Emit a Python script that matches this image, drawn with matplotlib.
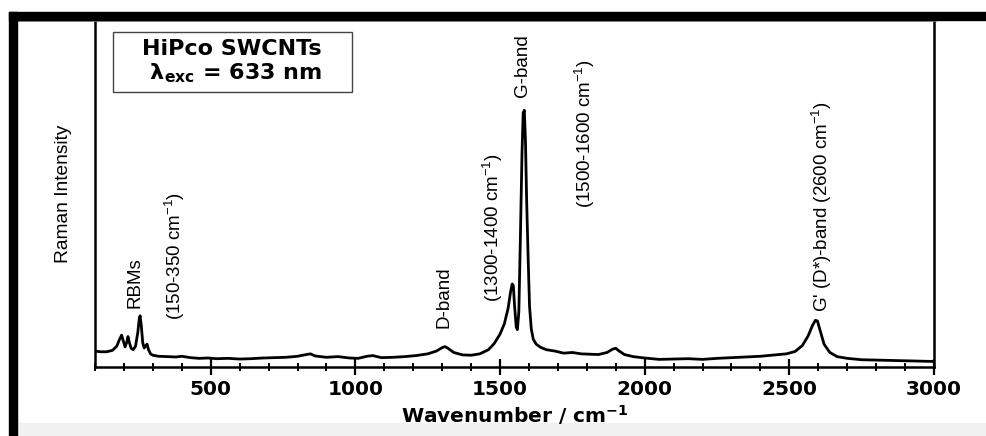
import matplotlib
matplotlib.use("Agg")
import matplotlib.pyplot as plt
from matplotlib.ticker import MultipleLocator
from matplotlib.patches import Rectangle
from matplotlib.lines import Line2D

wavenumber = [
    100, 120, 140, 160, 175, 185, 192, 198, 204, 210, 214, 219, 225, 232, 240,
    248, 253, 256, 260, 265, 270, 276, 280, 285, 292, 300, 320, 350, 380, 400,
    430, 460, 490, 520, 560, 600, 640, 680, 720, 760, 800, 830, 845, 860, 900,
    940, 980, 1010, 1040, 1060, 1090, 1130, 1170, 1210, 1250, 1280, 1300, 1310,
    1320, 1340, 1370, 1400, 1430, 1460, 1480, 1500, 1515, 1528, 1536, 1542,
    1546, 1550, 1556, 1560, 1565, 1570, 1576, 1580, 1584, 1588, 1592, 1597,
    1602, 1608, 1615, 1625, 1640, 1660, 1690, 1720, 1750, 1780, 1810, 1840,
    1870, 1890, 1900, 1912, 1930, 1960, 2000, 2050, 2100, 2150, 2200, 2250,
    2300, 2350, 2400, 2450, 2490, 2520, 2545, 2565, 2580, 2590, 2597, 2605,
    2620, 2640, 2665, 2700, 2750, 2800, 2850, 2900, 2950, 3000,
]
intensity = [
    0.046, 0.044, 0.044, 0.048, 0.060, 0.080, 0.092, 0.075, 0.058, 0.072,
    0.088, 0.070, 0.054, 0.050, 0.060, 0.100, 0.140, 0.148, 0.120, 0.070,
    0.055, 0.062, 0.066, 0.050, 0.038, 0.034, 0.031, 0.030, 0.029, 0.031,
    0.027, 0.025, 0.026, 0.024, 0.025, 0.023, 0.024, 0.026, 0.027, 0.028,
    0.031, 0.036, 0.038, 0.032, 0.028, 0.030, 0.026, 0.025, 0.031, 0.033,
    0.027, 0.028, 0.030, 0.033, 0.038, 0.046, 0.056, 0.059, 0.054, 0.042,
    0.035, 0.034, 0.038, 0.050, 0.068, 0.095, 0.125, 0.170, 0.215, 0.240,
    0.235, 0.180, 0.115, 0.108, 0.160, 0.360, 0.620, 0.735, 0.742, 0.650,
    0.480, 0.320, 0.175, 0.110, 0.080, 0.066, 0.057, 0.050, 0.046, 0.040,
    0.042, 0.038, 0.037, 0.036, 0.042, 0.052, 0.054, 0.046, 0.036, 0.030,
    0.026, 0.022, 0.023, 0.024, 0.022, 0.025, 0.027, 0.029, 0.031, 0.035,
    0.038, 0.045, 0.062, 0.090, 0.120, 0.135, 0.133, 0.110, 0.066, 0.042,
    0.030, 0.025, 0.021, 0.020, 0.019, 0.018, 0.017, 0.016,
]

# Rótulos das bandas (texto vertical) e onde ficam
band_labels = [
    "RBMs",
    "(150-350 cm$^{-1}$)",
    "D-band",
    "(1300-1400 cm$^{-1}$)",
    "G-band",
    "(1500-1600 cm$^{-1}$)",
    "G' (D*)-band (2600 cm$^{-1}$)",
]
band_x = [238, 376, 1308, 1474, 1578, 1792, 2613]
band_y = [0.170, 0.135, 0.112, 0.187, 0.780, 0.459, 0.158]

major_ticks = [500, 1000, 1500, 2000, 2500, 3000]

NARROW = ["Liberation Sans Narrow", "Liberation Sans", "DejaVu Sans"]
WIDE = ["DejaVu Sans"]

plt.rcParams["mathtext.default"] = "regular"

W, H = 986, 436
fig = plt.figure(figsize=(W / 100, H / 100), dpi=100)
fig.patch.set_facecolor("white")

# eixo em pixels: esquerda 95, direita 934, topo 21, base 367
ax = fig.add_axes([95 / W, (H - 367) / H, (934 - 95) / W, (367 - 21) / H])

ax.plot(wavenumber, intensity, color="black", lw=2.0, solid_joinstyle="round")

ax.set_xlim(100, 3000)
ax.set_ylim(0, 1)
ax.set_xticks(major_ticks)
ax.xaxis.set_minor_locator(MultipleLocator(100))
ax.set_yticks([])

ax.tick_params(axis="x", which="major", direction="inout", length=11, width=1.6,
               pad=4, labelsize=14.5)
ax.tick_params(axis="x", which="minor", direction="inout", length=6, width=1.4)
for lab in ax.get_xticklabels():
    lab.set_family(WIDE)
    lab.set_fontweight("bold")

ax.spines["top"].set_visible(False)
for s in ("left", "right", "bottom"):
    ax.spines[s].set_linewidth(1.8)

ax.set_xlabel("Wavenumber / cm$^{-1}$", family=WIDE, fontweight="bold",
              fontsize=14.5, labelpad=3)
ax.set_ylabel("Raman Intensity", family=NARROW, fontsize=13.8)
ax.yaxis.set_label_coords(-0.028, 0.5)

for txt, x, y in zip(band_labels, band_x, band_y):
    ax.text(x, y, txt, rotation=90, ha="center", va="bottom",
            family=NARROW, fontsize=13.5)

# caixa de legenda (HiPco / lambda)
fig.patches.append(Rectangle((113 / W, (H - 92) / H), 239 / W, 60 / H,
                             transform=fig.transFigure, fc="white",
                             ec="#444444", lw=1.0, zorder=2))
fig.text(232 / W, (H - 62) / H, "HiPco SWCNTs\n $\\lambda_{exc}$ = 633 nm",
         ha="center", va="center", ma="left", family=WIDE,
         fontweight="bold", fontsize=16, linespacing=1.1, zorder=3)

# moldura da imagem original (barras pretas e faixa cinza)
fig.patches.append(Rectangle((9 / W, 0), 8 / W, (H - 12) / H,
                             transform=fig.transFigure, color="black", zorder=5))
fig.patches.append(Rectangle((9 / W, (H - 20) / H), 1 - 9 / W, 8 / H,
                             transform=fig.transFigure, color="black", zorder=5))
fig.lines.append(Line2D([17 / W, 936 / W], [(H - 21) / H] * 2,
                        transform=fig.transFigure, color="#888888", lw=1.2))
fig.patches.append(Rectangle((17 / W, 0), 1, 13 / H, transform=fig.transFigure,
                             color="#f1f1f1", zorder=-1))

fig.savefig("out.png", dpi=100)
